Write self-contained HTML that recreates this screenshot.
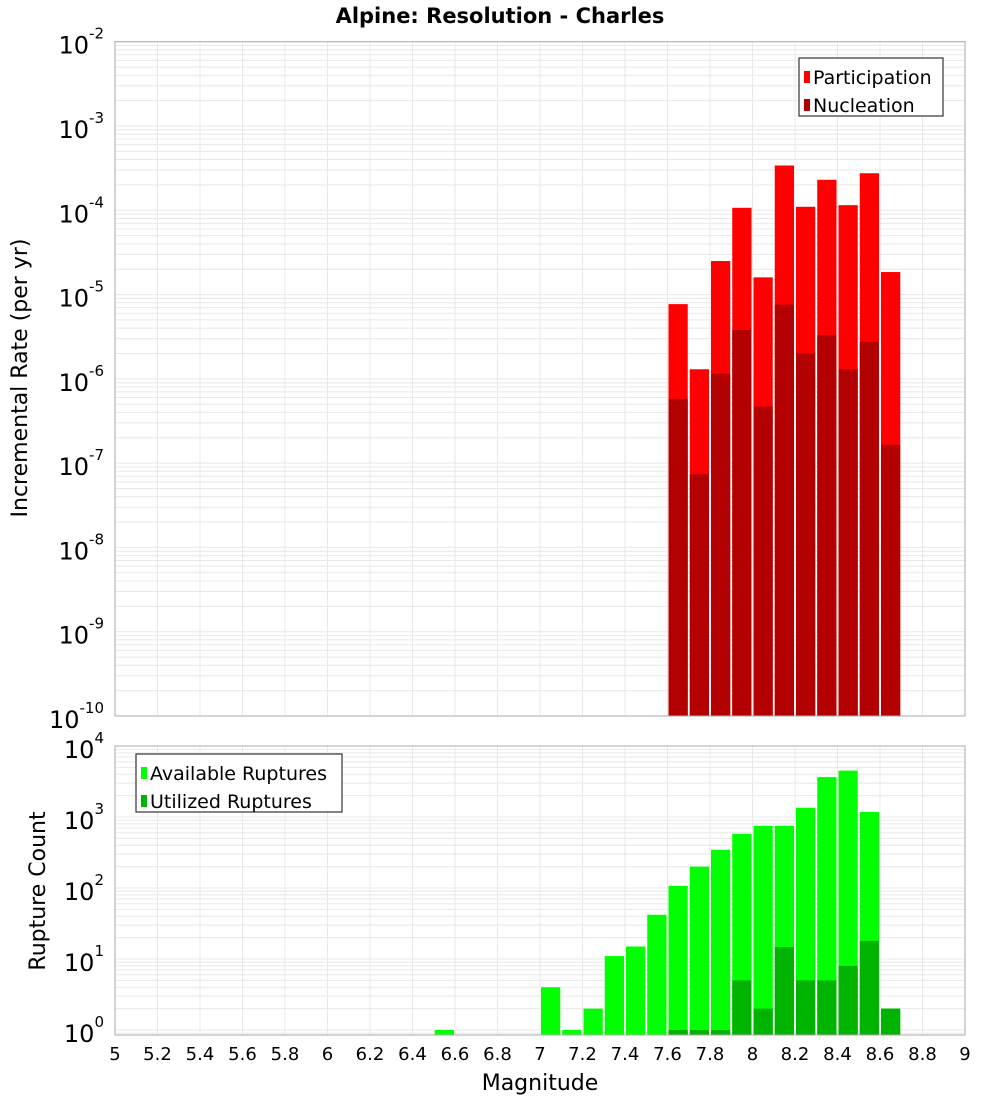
<!DOCTYPE html>
<html><head><meta charset="utf-8"><style>
body{margin:0;background:#fff;}
svg{display:block;font-family:"DejaVu Sans","Liberation Sans",sans-serif;}
</style></head><body>
<svg id="c" width="1000" height="1100">
<text x="500" y="23" text-anchor="middle" font-size="21" font-weight="bold">Alpine: Resolution - Charles</text>
<g id="topPanel"></g>
<g id="botPanel"></g>
<text transform="translate(27,378) rotate(-90)" text-anchor="middle" font-size="22">Incremental Rate (per yr)</text>
<text transform="translate(45,891) rotate(-90)" text-anchor="middle" font-size="22">Rupture Count</text>
<text x="540" y="1090" text-anchor="middle" font-size="22">Magnitude</text>
</svg>
<script>
const topBins=[7.6,7.7,7.8,7.9,8.0,8.1,8.2,8.3,8.4,8.5,8.6];
const participation=[7.7e-6,1.3e-6,2.5e-5,1.07e-4,1.6e-5,3.4e-4,1.1e-4,2.3e-4,1.15e-4,2.75e-4,1.85e-5];
const nucleation=[5.8e-7,7.4e-8,1.15e-6,3.8e-6,4.7e-7,7.6e-6,2.0e-6,3.3e-6,1.3e-6,2.75e-6,1.65e-7];
const availBins=[6.5,7.0,7.1,7.2,7.3,7.4,7.5,7.6,7.7,7.8,7.9,8.0,8.1,8.2,8.3,8.4,8.5,8.6];
const available=[1,4,1,2,11,15,42,107,200,345,580,750,750,1350,3650,4500,1180,2];
const utilBins=[7.6,7.7,7.8,7.9,8.0,8.1,8.2,8.3,8.4,8.5,8.6];
const utilized=[1,1,1,5,2,14.7,5,5,8,18,2];
const xTicks=[5,5.2,5.4,5.6,5.8,6,6.2,6.4,6.6,6.8,7,7.2,7.4,7.6,7.8,8,8.2,8.4,8.6,8.8,9];
const topDecades=[-10,-9,-8,-7,-6,-5,-4,-3,-2];
const botDecades=[0,1,2,3,4];

const NS="http://www.w3.org/2000/svg";
function mk(p,tag,a){const e=document.createElementNS(NS,tag);for(const k in a)e.setAttribute(k,a[k]);p.appendChild(e);return e;}
const X0=115,X1=965;
const xs=v=>X0+(v-5)/(9-5)*(X1-X0);
function panel(g,T,B,lmin,lmax,decades,name){
  const ys=v=>B-(Math.log10(v)-lmin)/(lmax-lmin)*(B-T);
  const grid=mk(g,'g',{});
  
  
  for(let d=Math.floor(lmin);d<=lmax;d++){for(let m=1;m<10;m++){const v=m*Math.pow(10,d);const L=Math.log10(v);if(L<lmin||L>lmax)continue;const y=ys(v);mk(grid,'line',{x1:X0,x2:X1,y1:y,y2:y,stroke:'#e8e8e8','stroke-width':1});}}
  xTicks.forEach(t=>{const x=xs(t);mk(grid,'line',{x1:x,x2:x,y1:T,y2:B,stroke:'#e8e8e8','stroke-width':1});});
  decades.forEach(d=>{const y=ys(Math.pow(10,d));const t=mk(g,'text',{x:104,y:y+12,'text-anchor':'end','font-size':24});
    
    
    t.textContent='10';const s=mk(t,'tspan',{dy:-15,'font-size':15});s.textContent=String(d);});
  return ys;
}
function bars(g,bins,vals,ys,B,color,name){
  bins.forEach((b,i)=>{const x=xs(b),w=xs(b+0.1)-x;const y=ys(vals[i]);
    const r=mk(g,'rect',{x:x+1,y:y,width:w-2,height:B-y,fill:color});
    
    });
}
function frame(g,T,B){mk(g,'rect',{x:X0,y:T,width:X1-X0,height:B-T,fill:'none',stroke:'#aaa','stroke-width':1});}
function legend(g,x,y,w,items){mk(g,'rect',{x:x,y:y,width:w,height:58,fill:'#fff',stroke:'#333','stroke-width':1.2});
  items.forEach((it,i)=>{const yy=y+20+i*28;mk(g,'rect',{x:x+5,y:yy-7,width:6,height:12,fill:it[1]});
    const t=mk(g,'text',{x:x+14,y:yy+6,'font-size':19});
    
    
    t.textContent=it[0];});}
const topG=document.getElementById('topPanel'),botG=document.getElementById('botPanel');
const tT=41.7,tB=716;
const ysT=panel(topG,tT,tB,-10,-2,topDecades,'top');
bars(topG,topBins,participation,ysT,tB,'#ff0000','participation-bar');
bars(topG,topBins,nucleation,ysT,tB,'#b30000','nucleation-bar');
frame(topG,tT,tB);
legend(topG,799,58,144,[['Participation','#ff0000'],['Nucleation','#b30000']]);
const bT=746,bB=1035;
const lminB=4-(bB-bT)/71;
const ysB=panel(botG,bT,bB,lminB,4,botDecades,'bottom');
bars(botG,availBins,available,ysB,bB,'#00ff00','available-bar');
bars(botG,utilBins,utilized,ysB,bB,'#00b300','utilized-bar');
frame(botG,bT,bB);
legend(botG,136,754,206,[['Available Ruptures','#00ff00'],['Utilized Ruptures','#00b300']]);
xTicks.forEach(t=>{const e=mk(botG,'text',{x:xs(t),y:1060,'text-anchor':'middle','font-size':18});
  
  
  e.textContent=String(t);});
</script>
</body></html>
